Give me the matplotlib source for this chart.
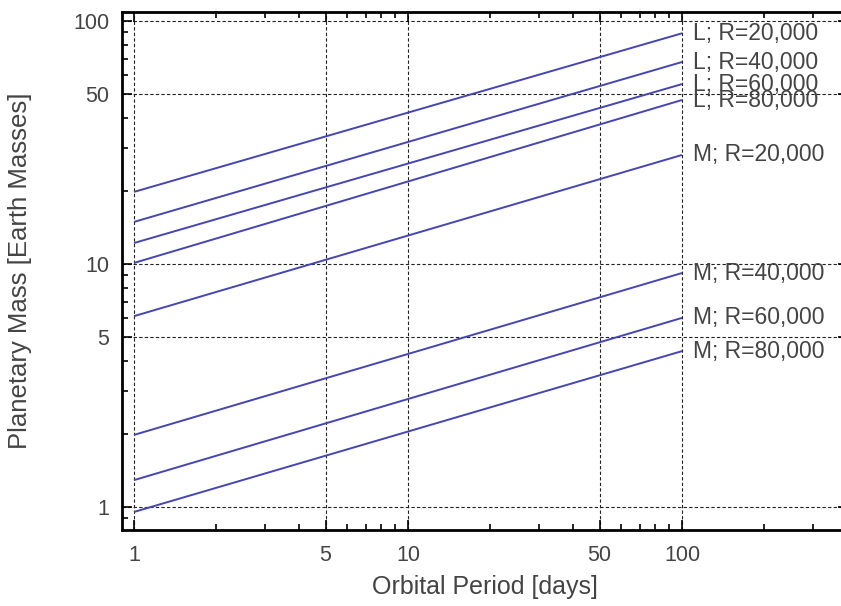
import numpy as np
import matplotlib
matplotlib.use('Agg')
import matplotlib.pyplot as plt
import matplotlib.ticker as ticker

# line endpoints (period 1 and 100 days), masses
period = [1, 100]
labels = ['L; R=20,000', 'L; R=40,000', 'L; R=60,000', 'L; R=80,000',
          'M; R=20,000', 'M; R=40,000', 'M; R=60,000', 'M; R=80,000']
mass_p1   = [19.8, 14.9, 12.2, 10.1, 6.1, 1.98, 1.29, 0.954]
mass_p100 = [89.0, 67.8, 55.0, 47.3, 28.1, 9.18, 6.0, 4.38]

x_ticks = [1, 5, 10, 50, 100]
y_ticks = [1, 5, 10, 50, 100]

LINE = '#4545b5'
TEXT = '#444444'

plt.rcParams['font.family'] = ['Liberation Sans', 'DejaVu Sans']

W, H = 841, 606
fig = plt.figure(figsize=(W / 100, H / 100), dpi=100)
# axes runs a little past the right edge of the figure, like the cropped original
ax = fig.add_axes([122 / W, 1 - 530 / H, (848 - 122) / W, (530 - 12) / H])
ax.set_xscale('log')
ax.set_yscale('log')
ax.set_xlim(0.904, 10 ** ((848 - 134) / 274))
ax.set_ylim(0.804, 108.9)

for lab, a, b in zip(labels, mass_p1, mass_p100):
    ax.plot(period, [a, b], color=LINE, lw=1.4, solid_capstyle='butt')
    ax.text(110, b, lab, fontsize=16.5, color=TEXT, va='center', ha='left')

for v in x_ticks:
    ax.axvline(v, color='#222222', lw=0.8, ls=(0, (3, 2)), zorder=0)
for v in y_ticks:
    ax.axhline(v, color='#222222', lw=0.8, ls=(0, (3, 2)), zorder=0)

ax.xaxis.set_major_locator(ticker.FixedLocator(x_ticks))
ax.yaxis.set_major_locator(ticker.FixedLocator(y_ticks))
ax.xaxis.set_major_formatter(ticker.FuncFormatter(lambda v, p: f'{v:g}'))
ax.yaxis.set_major_formatter(ticker.FuncFormatter(lambda v, p: f'{v:g}'))
ax.xaxis.set_minor_locator(ticker.LogLocator(subs=np.arange(2, 10)))
ax.yaxis.set_minor_locator(ticker.LogLocator(subs=np.arange(2, 10)))
ax.xaxis.set_minor_formatter(ticker.NullFormatter())
ax.yaxis.set_minor_formatter(ticker.NullFormatter())
ax.tick_params(which='both', direction='in', top=True, right=True, color='black')
ax.tick_params(which='major', length=7, width=1.2, labelsize=15.5,
               labelcolor=TEXT, pad=9)
ax.tick_params(axis='x', which='major', pad=11)
ax.tick_params(which='minor', length=4, width=1.2)
for s in ax.spines.values():
    s.set_linewidth(2)

ax.set_xlabel('Orbital Period [days]', fontsize=18, color=TEXT, labelpad=6)
ax.set_ylabel('Planetary Mass [Earth Masses]', fontsize=18.5, color=TEXT, labelpad=30)

fig.savefig('out.png', dpi=100)
